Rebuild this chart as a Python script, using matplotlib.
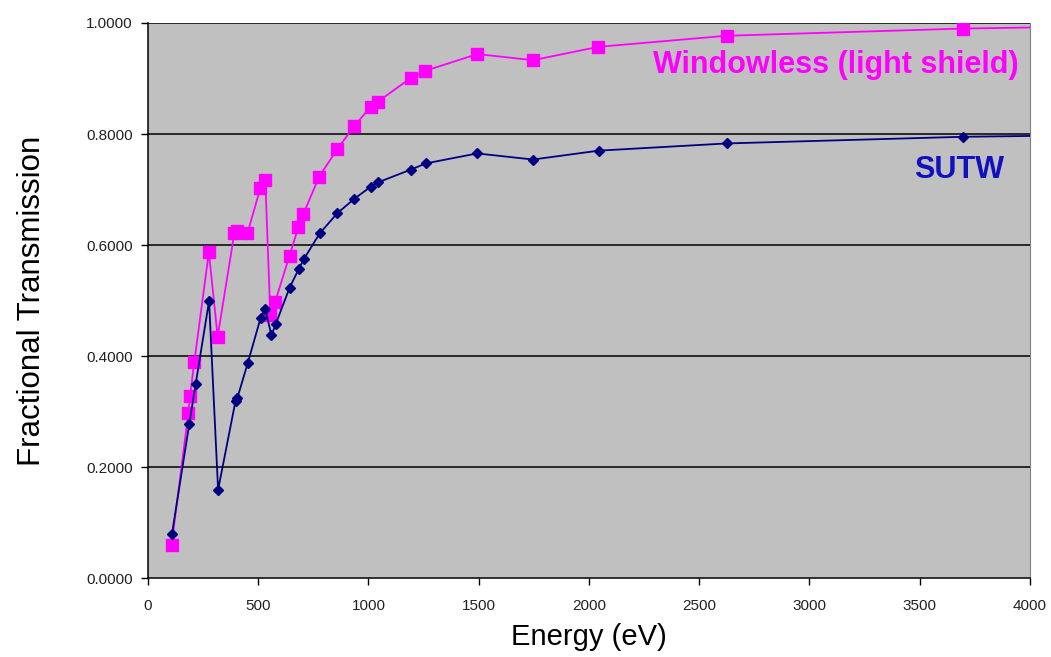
import matplotlib
matplotlib.use("Agg")
import matplotlib.pyplot as plt

plt.rcParams['font.family'] = ['Liberation Sans', 'DejaVu Sans']

# Windowless (light shield)
energy_win = [107, 183, 191, 210, 276, 316, 392, 403, 451, 510, 532, 555, 577,
              642, 682, 705, 776, 859, 935, 1010, 1042, 1192, 1258, 1494, 1746,
              2042, 2624, 3698, 4510]
trans_win = [0.059, 0.297, 0.328, 0.389, 0.587, 0.435, 0.622, 0.625, 0.621,
             0.703, 0.717, 0.473, 0.498, 0.581, 0.632, 0.656, 0.723, 0.773,
             0.814, 0.849, 0.858, 0.901, 0.914, 0.944, 0.933, 0.957, 0.977,
             0.990, 0.995]

# SUTW
energy_sutw = [109, 187, 216, 277, 318, 397, 405, 453, 511, 532, 560, 579,
               642, 683, 706, 779, 858, 935, 1010, 1044, 1193, 1260, 1493,
               1746, 2044, 2624, 3698, 4510]
trans_sutw = [0.080, 0.277, 0.349, 0.499, 0.159, 0.319, 0.324, 0.388, 0.469,
              0.485, 0.437, 0.457, 0.523, 0.556, 0.574, 0.621, 0.657, 0.683,
              0.705, 0.713, 0.736, 0.747, 0.765, 0.754, 0.770, 0.783, 0.795,
              0.799]

y_ticks = [0.0, 0.2, 0.4, 0.6, 0.8, 1.0]
x_ticks = [0, 500, 1000, 1500, 2000, 2500, 3000, 3500, 4000]

fig = plt.figure(figsize=(10.51, 6.57), dpi=100)
ax = fig.add_axes([0.1408, 0.1202, 0.8392, 0.8448])
ax.set_facecolor('#C0C0C0')

ax.plot(energy_win, trans_win, color='#FF00FF', lw=1.3, marker='s',
        ms=8, mec='#FF00FF', mfc='#FF00FF', zorder=3, clip_on=True)
ax.plot(energy_sutw, trans_sutw, color='#000080', lw=1.3, marker='D',
        ms=5.5, mec='#000080', mfc='#000080', zorder=4, clip_on=True)

ax.set_xlim(0, 4000)
ax.set_ylim(0, 1.0)
ax.set_xticks(x_ticks)
ax.set_yticks(y_ticks)
ax.set_yticklabels(['%.4f' % v for v in y_ticks])
ax.tick_params(axis='both', direction='out', length=5, width=1,
               labelsize=11, colors='black', labelcolor='#222222', pad=6)
ax.tick_params(axis='x', pad=10)

for y in y_ticks[1:]:
    ax.axhline(y, color='black', lw=1.1, zorder=1)

ax.spines['top'].set_visible(False)
ax.spines['right'].set_color('#808080')
ax.spines['right'].set_linewidth(0.8)
for s in ['left', 'bottom']:
    ax.spines[s].set_color('black')
    ax.spines[s].set_linewidth(1.1)

ax.set_xlabel('Energy (eV)', fontsize=21, labelpad=7)
ax.set_ylabel('Fractional Transmission', fontsize=22.5, labelpad=28)

ax.text(3120, 0.925, 'Windowless (light shield)', color='#FF00FF',
        fontsize=22, fontweight='bold', ha='center', va='center')
ax.text(3680, 0.735, 'SUTW', color='#1010C0', fontsize=22,
        fontweight='bold', ha='center', va='center')

fig.savefig('out.png', dpi=100)
